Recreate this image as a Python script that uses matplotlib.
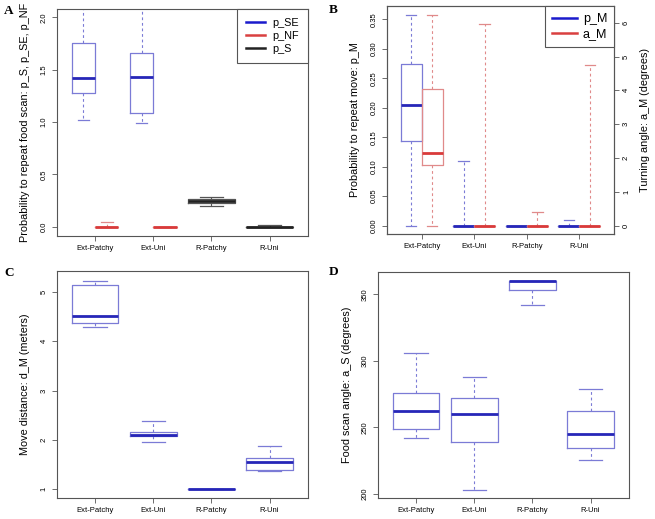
import matplotlib
matplotlib.use("Agg")
import matplotlib.pyplot as plt
from matplotlib.lines import Line2D

plt.rcParams['font.family'] = ['Liberation Sans', 'DejaVu Sans']

categories = ['Ext-Patchy', 'Ext-Uni', 'R-Patchy', 'R-Uni']

# five-number summaries: (lower whisker, Q1, median, Q3, upper whisker)
a_pSE_idx = [0, 1]
a_pSE = [(1.02, 1.275, 1.42, 1.75, 2.15), (0.99, 1.09, 1.43, 1.66, 2.15)]
a_pNF_idx = [0, 1]
a_pNF = [(0.0, 0.0, 0.0, 0.0, 0.04), (0.0, 0.0, 0.0, 0.0, 0.0)]
a_pS_idx = [2, 3]
a_pS = [(0.20, 0.23, 0.25, 0.26, 0.28), (0.0, 0.0, 0.0, 0.0, 0.02)]

b_pM = [(0.0, 0.144, 0.205, 0.274, 0.357), (0, 0, 0, 0, 0.11),
        (0, 0, 0, 0, 0), (0, 0, 0, 0, 0.009)]
b_aM = [(0.0, 1.78, 2.14, 4.04, 6.23), (0, 0, 0, 0, 5.97),
        (0, 0, 0, 0, 0.39), (0, 0, 0, 0, 4.75)]

c_dM = [(4.29, 4.36, 4.51, 5.14, 5.21), (1.95, 2.08, 2.10, 2.17, 2.38),
        (1.0, 1.0, 1.0, 1.0, 1.0), (1.38, 1.40, 1.56, 1.64, 1.88)]

d_aS = [(242, 249, 262, 276, 306), (202.5, 239, 260, 272, 288),
        (342, 353, 360, 360, 360), (225, 234, 245, 262, 279)]

BLUE = ('#7b7bd6', '#2626b8')
RED = ('#e08a8a', '#d93a3a')
BLACK = ('#555555', '#222222')
FRAME = '#555555'


def rbox(ax, pos, stats, width, colors):
    edge, med = colors
    st = [dict(whislo=s[0], q1=s[1], med=s[2], q3=s[3], whishi=s[4], fliers=[])
          for s in stats]
    ax.bxp(st, positions=pos, widths=width, capwidths=width * 0.5,
           showfliers=False, manage_ticks=False,
           boxprops=dict(color=edge, lw=0.9),
           whiskerprops=dict(color=edge, lw=0.8, ls=(0, (2.5, 2.5))),
           capprops=dict(color=edge, lw=0.9),
           medianprops=dict(color=med, lw=2.0, solid_capstyle='butt'))


def style(ax, ylim, yticks, yfmt, ylabel, labx):
    ax.set_xlim(0.34, 4.66)
    ax.set_ylim(*ylim)
    ax.set_xticks(range(1, 5))
    ax.set_xticklabels(categories)
    ax.set_yticks(yticks)
    ax.set_yticklabels([yfmt.format(v) for v in yticks], rotation=90, va='center')
    ax.tick_params(direction='out', length=3.5, width=0.6, color=FRAME,
                   labelsize=5.5, pad=3)
    for s in ax.spines.values():
        s.set_color(FRAME)
        s.set_linewidth(0.8)
    ax.set_ylabel(ylabel, fontsize=7.8)
    ax.yaxis.set_label_coords(labx, 0.5)
    ax.yaxis.label.set_va('center')


W, H = 655, 519
fig = plt.figure(figsize=(6.55, 5.19), dpi=100)


def box_axes(l, r, t, b):
    return fig.add_axes([l / W, 1 - b / H, (r - l) / W, (b - t) / H])


# A
axA = box_axes(56.7, 308, 9, 236)
rbox(axA, [i + 1 - 0.2 for i in a_pSE_idx], a_pSE, 0.4, BLUE)
rbox(axA, [i + 1 + 0.2 for i in a_pNF_idx], a_pNF, 0.4, RED)
rbox(axA, [i + 1 for i in a_pS_idx], a_pS, 0.8, BLACK)
style(axA, (-0.089, 2.079), [0, 0.5, 1.0, 1.5, 2.0], '{:.1f}',
      'Probability to repeat food scan: p_S, p_SE, p_NF', -0.126)
legA = axA.legend([Line2D([], [], color='#1a1acc', lw=1.8),
                   Line2D([], [], color='#d94040', lw=1.8),
                   Line2D([], [], color='#222222', lw=1.8)],
                  ['p_SE', 'p_NF', 'p_S'], loc='upper right', fontsize=7.8,
                  borderaxespad=0, fancybox=False, framealpha=1,
                  edgecolor=FRAME, handlelength=1.7, handletextpad=0.7,
                  labelspacing=0.25, borderpad=0.85)
legA.get_frame().set_linewidth(0.8)

# B
axB = box_axes(387, 614, 6, 234)
axB2 = axB.twinx()
rbox(axB, [i + 1 - 0.2 for i in range(4)], b_pM, 0.4, BLUE)
rbox(axB2, [i + 1 + 0.2 for i in range(4)], b_aM, 0.4, RED)
style(axB, (-0.0143, 0.3726), [i * 0.05 for i in range(8)], '{:.2f}',
      'Probability to repeat move: p_M', -0.141)
axB2.set_ylim(-0.249, 6.494)
axB2.set_yticks(range(7))
axB2.set_yticklabels([str(v) for v in range(7)], rotation=90, va='center')
axB2.tick_params(direction='out', length=3.5, width=0.6, color=FRAME,
                 labelsize=5.5, pad=3)
for s in axB2.spines.values():
    s.set_color(FRAME)
    s.set_linewidth(0.8)
axB2.set_ylabel('Turning angle: a_M (degrees)', fontsize=7.8)
axB2.yaxis.set_label_coords(1.137, 0.5)
axB2.yaxis.label.set_va('center')
legB = axB2.legend([Line2D([], [], color='#1a1acc', lw=1.8),
                    Line2D([], [], color='#d94040', lw=1.8)],
                   ['p_M', 'a_M'], loc='upper right', fontsize=9,
                   borderaxespad=0, fancybox=False, framealpha=1,
                   edgecolor=FRAME, handlelength=2.0, handletextpad=0.5,
                   labelspacing=0.25, borderpad=0.55)
legB.get_frame().set_linewidth(0.8)

# C
axC = box_axes(56.7, 308, 270.7, 498.3)
rbox(axC, [1, 2, 3, 4], c_dM, 0.8, BLUE)
style(axC, (0.818, 5.425), [1, 2, 3, 4, 5], '{:d}',
      'Move distance: d_M (meters)', -0.126)

# D
axD = box_axes(377.7, 629, 271.7, 498.3)
rbox(axD, [1, 2, 3, 4], d_aS, 0.8, BLUE)
style(axD, (196.5, 367), [200, 250, 300, 350], '{:d}',
      'Food scan angle: a_S (degrees)', -0.123)

for letter, x, y in [('A', 9, 11.5), ('B', 333, 9.5), ('C', 9, 273.5), ('D', 333.5, 272)]:
    fig.text(x / W, 1 - y / H, letter, family='Liberation Serif',
             weight='bold', fontsize=9.5, ha='center', va='center')

fig.savefig('out.png', dpi=100)
